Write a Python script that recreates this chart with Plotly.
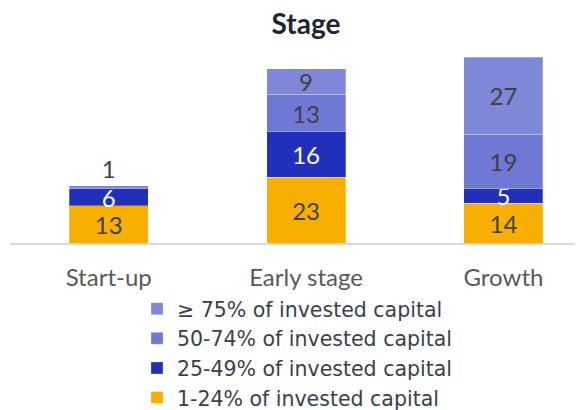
import plotly.graph_objects as go

categories = ["Start-up", "Early stage", "Growth"]
series_names = [
    "1-24% of invested capital",
    "25-49% of invested capital",
    "50-74% of invested capital",
    "≥ 75% of invested capital",
]
v_1_24 = [13, 23, 14]
v_25_49 = [6, 16, 5]
v_50_74 = [0, 13, 19]
v_75 = [1, 9, 27]

colors = ["#F9AF00", "#2130BA", "#6F78D5", "#7F87D9"]
label_colors = ["#404040", "#FFFFFF", "#404040", "#404040"]
all_values = [v_1_24, v_25_49, v_50_74, v_75]

FONT = "Lato"
W, H = 575, 402  # page body has an 8px default margin
fig = go.Figure()
for i, (name, vals) in enumerate(zip(series_names, all_values)):
    positions = ["inside"] * len(vals)
    if i == len(all_values) - 1:
        positions = ["outside" if v < 3 else "inside" for v in vals]
    fig.add_trace(go.Bar(
        x=categories, y=vals, name=name,
        marker=dict(color=colors[i], line=dict(color="rgba(255,255,255,0.35)", width=0.8)),
        text=[str(v) if v else "" for v in vals],
        textposition=positions,
        insidetextanchor="middle",
        textangle=0,
        constraintext="none",
        insidetextfont=dict(family=FONT, size=24, color=label_colors[i]),
        outsidetextfont=dict(family=FONT, size=24, color="#404040"),
        cliponaxis=False,
        legendgroup=name,
        hoverinfo="skip",
    ))

fig.update_layout(
    width=W, height=H,
    margin=dict(l=2, r=0, t=35, b=167, autoexpand=False),
    barmode="stack", bargap=0.6,
    paper_bgcolor="white", plot_bgcolor="white",
    font=dict(family=FONT, color="#404040"),
    title=dict(text="<b>Stage</b>", x=298 / W, xanchor="center", xref="container",
               y=1, yanchor="top", yref="container", pad=dict(t=6, b=0),
               font=dict(family=FONT, size=28, color="#1F2633")),
    showlegend=True,
    legend=dict(orientation="v", traceorder="reversed", x=(129 - 2) / 573, xanchor="left",
                y=-0.229, yanchor="top", yref="paper",
                font=dict(family="DejaVu Sans", size=20.5, color="#3A3F4A"),
                tracegroupgap=0, bgcolor="rgba(0,0,0,0)"),
    xaxis=dict(type="category", range=[-0.5, 2.403], showgrid=False, zeroline=False,
               showline=True, linecolor="#D9D9D9", linewidth=2,
               ticks="", ticklabelstandoff=12,
               tickfont=dict(family=FONT, size=24, color="#595959")),
    yaxis=dict(range=[0, 70], visible=False, showgrid=False, zeroline=False),
)

fig.write_html("out.html")
